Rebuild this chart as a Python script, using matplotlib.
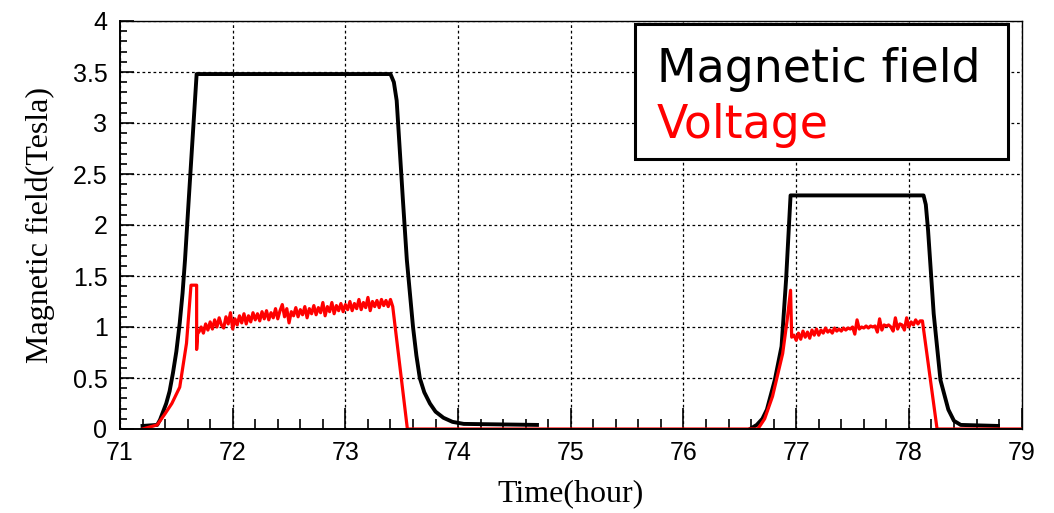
import numpy as np
import matplotlib
matplotlib.use("Agg")
import matplotlib.pyplot as plt
from matplotlib.patches import Rectangle
from matplotlib.ticker import MultipleLocator

# magnetic field, first ramp (hour, Tesla)
field1_t = [71.20, 71.33, 71.355, 71.41, 71.44, 71.47, 71.50, 71.53, 71.555, 71.577, 71.61, 71.68,
            73.40, 73.43, 73.455, 73.51, 73.545, 73.60, 73.63, 73.66, 73.70, 73.75, 73.80, 73.87,
            73.95, 74.05, 74.70]
field1_b = [0.03, 0.04, 0.09, 0.25, 0.37, 0.55, 0.76, 1.04, 1.33, 1.66, 2.25, 3.48,
            3.48, 3.40, 3.22, 2.25, 1.66, 1.00, 0.72, 0.50, 0.36, 0.25, 0.17, 0.11,
            0.07, 0.05, 0.04]

# magnetic field, second ramp
field2_t = [76.59, 76.65, 76.70, 76.74, 76.81, 76.87, 76.91, 76.95, 78.13, 78.15, 78.17, 78.22,
            78.28, 78.35, 78.40, 78.46, 78.79]
field2_b = [0.00, 0.04, 0.10, 0.19, 0.48, 0.81, 1.46, 2.29, 2.29, 2.20, 1.95, 1.13,
            0.48, 0.19, 0.08, 0.04, 0.03]

# voltage pieces
volt_rise1_t = [71.20, 71.33, 71.40, 71.46, 71.53, 71.59, 71.63, 71.68, 71.68, 71.69]
volt_rise1_v = [0.00, 0.04, 0.15, 0.25, 0.41, 0.84, 1.41, 1.41, 0.78, 0.95]

# noisy plateau, sampled every 0.02 h from 71.70
volt_flat1_v = [0.95, 1.00, 0.94, 1.03, 0.97, 1.05, 0.98, 1.07, 1.00, 1.09,
                1.02, 0.99, 1.10, 1.03, 1.14, 0.98, 1.08, 1.02, 1.11, 1.04,
                1.13, 1.03, 1.11, 1.05, 1.14, 1.07, 1.13, 1.06, 1.15, 1.08,
                1.16, 1.07, 1.14, 1.09, 1.18, 1.08, 1.16, 1.22, 1.10, 1.18,
                1.04, 1.15, 1.11, 1.19, 1.10, 1.17, 1.12, 1.20, 1.09, 1.18,
                1.13, 1.21, 1.12, 1.19, 1.14, 1.24, 1.11, 1.20, 1.15, 1.24,
                1.13, 1.21, 1.16, 1.23, 1.15, 1.22, 1.17, 1.25, 1.16, 1.23,
                1.18, 1.27, 1.17, 1.24, 1.19, 1.29, 1.16, 1.25, 1.20, 1.26,
                1.19, 1.27, 1.21, 1.26, 1.20, 1.27]

volt_mid_t = [73.42, 73.55, 76.66, 76.72, 76.79, 76.88, 76.92, 76.95]
volt_mid_v = [1.20, 0.00, 0.00, 0.10, 0.32, 0.74, 1.07, 1.36]

# noisy plateau, sampled every 0.02 h from 76.96
volt_flat2_v = [0.90, 0.92, 0.87, 0.94, 0.88, 0.96, 0.90, 0.95, 0.89, 0.97,
                0.92, 0.98, 0.92, 0.97, 0.94, 0.99, 0.95, 0.97, 0.94, 0.99,
                0.96, 0.98, 0.96, 0.99, 0.97, 0.99, 0.98, 1.00, 0.93, 1.07,
                0.98, 1.00, 0.99, 1.01, 0.99, 1.01, 1.00, 1.01, 0.95, 1.08,
                0.97, 1.02, 1.01, 1.02, 1.00, 0.96, 1.09, 0.98, 1.03, 1.02,
                0.97, 1.09, 1.00, 1.05, 1.02, 1.07, 1.03, 1.06]

volt_end_t = [78.12, 78.25, 79.00]
volt_end_v = [1.06, 0.00, 0.00]

volt_flat1_t = 71.70 + 0.02 * np.arange(len(volt_flat1_v))
volt_flat2_t = 76.96 + 0.02 * np.arange(len(volt_flat2_v))
volt_t = np.concatenate([volt_rise1_t, volt_flat1_t, volt_mid_t, volt_flat2_t, volt_end_t])
volt_v = np.concatenate([volt_rise1_v, volt_flat1_v, volt_mid_v, volt_flat2_v, volt_end_v])

W, H = 1054, 513
fig = plt.figure(figsize=(W / 100, H / 100), dpi=100)
ax = fig.add_axes([120 / W, 84 / H, 901.6 / W, 408 / H])

ax.plot(field1_t, field1_b, color='black', lw=2.8)
ax.plot(field2_t, field2_b, color='black', lw=2.8)
ax.plot(volt_t, volt_v, color='#ff0000', lw=2.3)

ax.set_xlim(71, 79)
ax.set_ylim(0, 4)
ax.xaxis.set_major_locator(MultipleLocator(1))
ax.xaxis.set_minor_locator(MultipleLocator(0.2))
ax.yaxis.set_major_locator(MultipleLocator(0.5))
ax.yaxis.set_minor_locator(MultipleLocator(0.1))
ax.yaxis.set_major_formatter(plt.FuncFormatter(lambda v, p: f'{v:g}'))

ax.grid(True, which='major', color='black', lw=0.9, linestyle=(0, (2.2, 2.2)))
ax.set_axisbelow(True)

tick_font = 'Liberation Sans'
ax.tick_params(axis='x', which='major', direction='in', length=15, width=1.2, pad=9)
ax.tick_params(axis='x', which='minor', direction='in', length=7, width=1.2)
ax.tick_params(axis='y', which='major', direction='in', length=10, width=1.2, pad=9)
ax.tick_params(axis='y', which='minor', direction='in', length=5, width=1.2)
for lab in ax.get_xticklabels() + ax.get_yticklabels():
    lab.set_fontfamily(tick_font)
    lab.set_fontsize(18)
for s in ax.spines.values():
    s.set_linewidth(1.0)
ax.spines['left'].set_linewidth(1.4)
ax.spines['bottom'].set_linewidth(1.4)

ax.set_xlabel('Time(hour)', fontfamily='Liberation Serif', fontsize=23, labelpad=10)
ax.set_ylabel('Magnetic field(Tesla)', fontfamily='Liberation Serif', fontsize=23, labelpad=13)

# legend box drawn in figure pixels
fig.patches.append(Rectangle((635 / W, 1 - 159 / H), (1008 - 635) / W, (159 - 24) / H,
                             transform=fig.transFigure, facecolor='white',
                             edgecolor='black', lw=2.2, zorder=5))
fig.text(657 / W, 1 - 82 / H, 'Magnetic field', color='black', fontfamily='DejaVu Sans',
         fontsize=33, va='baseline', ha='left', zorder=6)
fig.text(657 / W, 1 - 138 / H, 'Voltage', color='#ff0000', fontfamily='DejaVu Sans',
         fontsize=33, va='baseline', ha='left', zorder=6)

fig.savefig('out.png', dpi=100)
